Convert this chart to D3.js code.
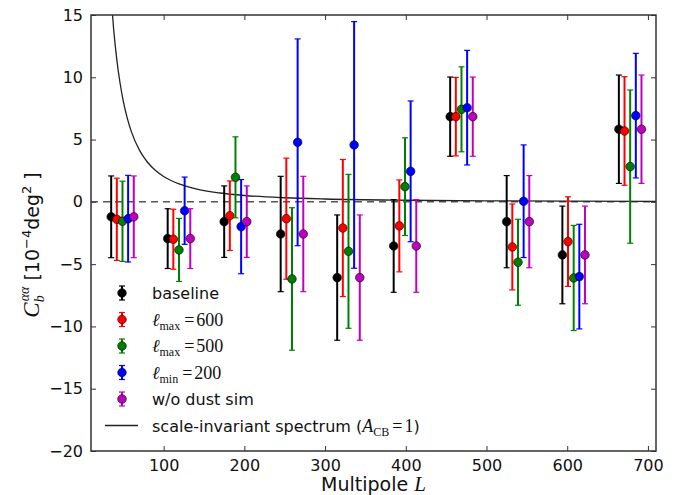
<!DOCTYPE html>
<html>
<head>
<meta charset="utf-8">
<script src="https://cdn.jsdelivr.net/npm/d3@7"></script>
<style>
  body { margin: 0; background: #fff; }
  svg { display: block; }
  .tick text { font-family: "DejaVu Sans", sans-serif; font-size: 16px; fill: #111; }
</style>
</head>
<body>
<div id="chart"></div>
<script>
// Bin centres in multipole L
const bins = [49, 119, 189, 259, 329, 399, 469, 539, 608, 678];

// C_b^{aa} values [1e-4 deg^2] and symmetric 1-sigma errors
const baseline = [-1.2, -2.95, -1.59, -2.58, -6.08, -3.54, 6.84, -1.59, -4.26, 5.83];
const baselineErr = [3.28, 2.4, 2.87, 4.63, 5.03, 3.72, 3.18, 3.7, 3.92, 4.35];
const lmax600 = [-1.4, -3.0, -1.11, -1.35, -2.1, -1.93, 6.84, -3.62, -3.19, 5.69];
const lmax600Err = [3.3, 2.41, 2.79, 4.86, 5.5, 3.69, 3.15, 3.45, 3.6, 4.36];
const lmax500 = [-1.56, -3.86, 1.97, -6.19, -3.97, 1.22, 7.43, -4.85, -6.11, 2.83];
const lmax500Err = [3.22, 2.53, 3.25, 5.72, 6.18, 3.92, 3.41, 3.45, 4.22, 6.15];
const lmin200 = [-1.35, -0.71, -1.99, 4.78, 4.57, 2.45, 7.56, 0.05, -6.0, 6.92];
const lmin200Err = [3.48, 2.7, 3.78, 8.3, 9.9, 5.65, 4.6, 4.52, 4.2, 5.0];
const noDust = [-1.2, -2.95, -1.59, -2.58, -6.08, -3.54, 6.84, -1.59, -4.26, 5.83];
const noDustErr = [3.28, 2.4, 2.87, 4.63, 5.03, 3.72, 3.18, 3.7, 3.92, 4.35];

// scale-invariant spectrum (A_CB = 1), sampled along the curve
const specL = [35, 38, 42, 46, 50, 55, 60, 70, 80, 90, 100, 120, 140, 170, 200, 250, 300, 400, 500, 600, 710];
const specC = [16.4, 13.9, 11.4, 9.54, 8.09, 6.7, 5.64, 4.15, 3.18, 2.52, 2.04, 1.42, 1.04, 0.71, 0.51, 0.33, 0.23, 0.13, 0.08, 0.06, 0.04];

const xTicks = [100, 200, 300, 400, 500, 600, 700];
const yTicks = [15, 10, 5, 0, -5, -10, -15, -20];

const series = [
  { name: "baseline", values: baseline, errs: baselineErr, color: "#000000", shift: -14 },
  { name: "lmax600", values: lmax600, errs: lmax600Err, color: "#ff0000", shift: -7 },
  { name: "lmax500", values: lmax500, errs: lmax500Err, color: "#008000", shift: 0 },
  { name: "lmin200", values: lmin200, errs: lmin200Err, color: "#0000ff", shift: 7 },
  { name: "nodust", values: noDust, errs: noDustErr, color: "#bf00bf", shift: 14 }
];

const width = 686, height = 495;
const margin = { top: 15, right: 30, bottom: 44, left: 91 };
const iw = width - margin.left - margin.right;
const ih = height - margin.top - margin.bottom;

const svg = d3.select("#chart").append("svg").attr("width", width).attr("height", height);
const g = svg.append("g").attr("transform", `translate(${margin.left},${margin.top})`);

const x = d3.scaleLinear().domain([10, 710]).range([0, iw]);
const y = d3.scaleLinear().domain([-20, 15]).range([ih, 0]);

svg.append("defs").append("clipPath").attr("id", "clip")
  .append("rect").attr("width", iw).attr("height", ih);

const fmt = (d) => (d < 0 ? "\u2212" + Math.abs(d) : "" + d);

// axes, ticks pointing inwards on all four sides
g.append("g").attr("transform", `translate(0,${ih})`)
  .call(d3.axisBottom(x).tickValues(xTicks).tickSize(-5).tickPadding(9).tickFormat(fmt))
  .call((a) => a.select(".domain").remove());
g.append("g")
  .call(d3.axisTop(x).tickValues(xTicks).tickSize(-5).tickFormat(""))
  .call((a) => a.select(".domain").remove());
g.append("g")
  .call(d3.axisLeft(y).tickValues(yTicks).tickSize(-5).tickPadding(8).tickFormat(fmt))
  .call((a) => a.select(".domain").remove());
g.append("g").attr("transform", `translate(${iw},0)`)
  .call(d3.axisRight(y).tickValues(yTicks).tickSize(-5).tickFormat(""))
  .call((a) => a.select(".domain").remove());
g.selectAll(".tick line").attr("stroke", "#333").attr("stroke-width", 1);

// zero line
g.append("line")
  .attr("x1", 0).attr("x2", iw).attr("y1", y(0)).attr("y2", y(0))
  .attr("stroke", "#555").attr("stroke-width", 1.5).attr("stroke-dasharray", "7,5");

// spectrum curve
const line = d3.line().x((d) => x(d[0])).y((d) => y(d[1])).curve(d3.curveMonotoneX);
g.append("path")
  .datum(specL.map((l, i) => [l, specC[i]]))
  .attr("clip-path", "url(#clip)")
  .attr("d", line)
  .attr("fill", "none").attr("stroke", "#222").attr("stroke-width", 1.3);

// error bars and markers
const cap = 3;
series.forEach((s) => {
  const pts = bins.map((b, i) => ({ l: b + s.shift, v: s.values[i], e: s.errs[i] }));
  const grp = g.append("g");
  grp.selectAll("line.bar").data(pts).join("line").attr("class", "bar")
    .attr("x1", (d) => x(d.l)).attr("x2", (d) => x(d.l))
    .attr("y1", (d) => y(d.v - d.e)).attr("y2", (d) => y(d.v + d.e))
    .attr("stroke", s.color).attr("stroke-width", 2);
  ["lo", "hi"].forEach((k) => {
    grp.selectAll("line.cap" + k).data(pts).join("line").attr("class", "cap" + k)
      .attr("x1", (d) => x(d.l) - cap).attr("x2", (d) => x(d.l) + cap)
      .attr("y1", (d) => y(k === "lo" ? d.v - d.e : d.v + d.e))
      .attr("y2", (d) => y(k === "lo" ? d.v - d.e : d.v + d.e))
      .attr("stroke", s.color).attr("stroke-width", 1.2);
  });
  grp.selectAll("circle").data(pts).join("circle")
    .attr("cx", (d) => x(d.l)).attr("cy", (d) => y(d.v)).attr("r", 4.3)
    .attr("fill", s.color).attr("stroke", "#000").attr("stroke-width", 0.6);
});

// frame
g.append("rect").attr("width", iw).attr("height", ih)
  .attr("fill", "none").attr("stroke", "#333").attr("stroke-width", 1.5);

// legend
const legend = svg.append("g").attr("transform", "translate(122,293)");
const rowH = 26.5;
const serif = "'Liberation Serif', 'DejaVu Serif', serif";
const sans = "'DejaVu Sans', sans-serif";
series.forEach((s, i) => {
  const r = legend.append("g").attr("transform", `translate(0,${i * rowH})`);
  r.append("line").attr("y1", -7).attr("y2", 7).attr("stroke", s.color).attr("stroke-width", 2);
  [-7, 7].forEach((cy) => r.append("line").attr("x1", -cap).attr("x2", cap).attr("y1", cy).attr("y2", cy)
    .attr("stroke", s.color).attr("stroke-width", 1.2));
  r.append("circle").attr("r", 4.3).attr("fill", s.color).attr("stroke", "#000").attr("stroke-width", 0.6);
});

function legendText(row) {
  return legend.append("text").attr("x", 30).attr("y", row * rowH + 6)
    .attr("font-size", 16).attr("fill", "#111");
}
legendText(0).attr("font-family", sans).text("baseline");
[["max", "600"], ["max", "500"], ["min", "200"]].forEach(([sub, val], k) => {
  const t = legendText(k + 1).attr("font-family", serif).attr("font-size", 18);
  t.append("tspan").attr("font-style", "italic").text("\u2113");
  t.append("tspan").attr("font-size", 12).attr("dy", 4).text(sub);
  t.append("tspan").attr("dy", -4).attr("dx", 4).text("=");
  t.append("tspan").attr("dx", 2).text(val);
});
legendText(4).attr("font-family", sans).text("w/o dust sim");
legend.append("line").attr("x1", -17).attr("x2", 16)
  .attr("y1", 5 * rowH).attr("y2", 5 * rowH).attr("stroke", "#222").attr("stroke-width", 1.3);
const lt = legendText(5).attr("font-family", sans);
lt.append("tspan").text("scale-invariant spectrum (");
lt.append("tspan").attr("font-family", serif).attr("font-style", "italic").attr("font-size", 18).text("A");
lt.append("tspan").attr("font-family", serif).attr("font-size", 12).attr("dy", 4).text("CB");
lt.append("tspan").attr("font-family", serif).attr("font-size", 18).attr("dy", -4).attr("dx", 3).text("=");
lt.append("tspan").attr("font-family", serif).attr("font-size", 18).attr("dx", 2).text("1");
lt.append("tspan").text(")");

// axis labels
const xl = svg.append("text").attr("x", margin.left + iw / 2).attr("y", 491)
  .attr("text-anchor", "middle").attr("font-family", sans).attr("font-size", 19).attr("fill", "#111");
xl.append("tspan").text("Multipole ");
xl.append("tspan").attr("font-family", serif).attr("font-style", "italic").attr("font-size", 21).text("L");

const yl = svg.append("text")
  .attr("transform", `translate(39,${margin.top + ih / 2 + 12}) rotate(-90)`)
  .attr("text-anchor", "middle").attr("font-family", sans).attr("font-size", 19).attr("fill", "#111");
yl.append("tspan").attr("font-family", serif).attr("font-style", "italic").attr("font-size", 23).text("C");
yl.append("tspan").attr("font-family", serif).attr("font-style", "italic").attr("font-size", 14).attr("dy", 5).text("b");
yl.append("tspan").attr("font-family", serif).attr("font-style", "italic").attr("font-size", 14).attr("dy", -15).attr("dx", -6).text("\u03b1\u03b1");
yl.append("tspan").attr("dy", 10).text("  [10");
yl.append("tspan").attr("font-size", 13).attr("dy", -8).text("\u22124");
yl.append("tspan").attr("dy", 8).text("deg");
yl.append("tspan").attr("font-size", 13).attr("dy", -8).text("2");
yl.append("tspan").attr("dy", 8).text(" ]");
</script>
</body>
</html>
